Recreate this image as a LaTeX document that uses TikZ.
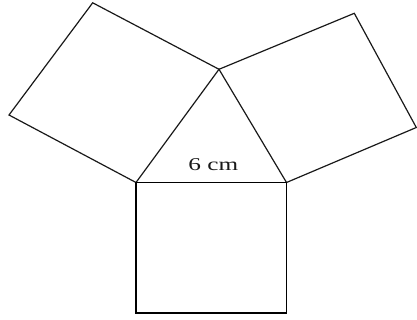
\documentclass[tikz,border=0pt]{standalone}
\usepackage{fontspec}
\setmainfont{Liberation Serif}
\begin{document}
\begin{tikzpicture}[x=1pt,y=-1pt,
  thinline/.style={line width=1.2pt,draw=black!90,line join=miter},
  thickline/.style={line width=1.8pt,draw=black,line join=miter}]
\useasboundingbox (0,0) rectangle (417,320);
\coordinate (A) at (136,182.5);
\coordinate (B) at (286.5,182.5);
\coordinate (C) at (219,69.3);
\coordinate (L1) at (92.7,2.8);
\coordinate (L2) at (9,115);
\coordinate (R1) at (354.3,13.3);
\coordinate (R2) at (416.3,127.5);
\coordinate (D) at (286.5,313);
\coordinate (E) at (136,313);
\draw[thinline] (A) -- (C) -- (B);
\draw[thinline] (A) -- (L2) -- (L1) -- (C);
\draw[thinline] (C) -- (R1) -- (R2) -- (B);
\draw[thickline] (A) -- (B) -- (D) -- (E) -- cycle;
\node[anchor=base,inner sep=0pt,xscale=1.4,font=\fontsize{18}{21}\selectfont,text=black!90] (lbl) at (213.3,170.7) {6 cm};
\end{tikzpicture}
\end{document}
